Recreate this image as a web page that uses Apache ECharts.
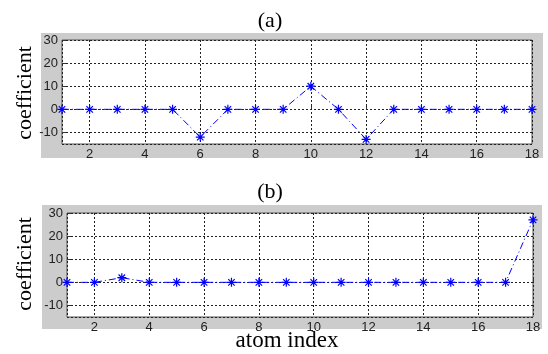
<!DOCTYPE html>
<html>
<head>
<meta charset="utf-8">
<style>
  html, body { margin: 0; padding: 0; background: #fff; }
  #chart { width: 548px; height: 354px; }
</style>
<script src="https://cdn.jsdelivr.net/npm/echarts@6/dist/echarts.min.js"></script>
</head>
<body>
<div id="chart"></div>
<script>
// atom index 1..18
const atomIndex = [1, 2, 3, 4, 5, 6, 7, 8, 9, 10, 11, 12, 13, 14, 15, 16, 17, 18];
const coefA = [0, 0, 0, 0, 0, -12, 0, 0, 0, 10, 0, -13, 0, 0, 0, 0, 0, 0];
const coefB = [0, 0, 2, 0, 0, 0, 0, 0, 0, 0, 0, 0, 0, 0, 0, 0, 0, 27];
const yRange = [-15, 30];
const xRange = [1, 18];

const chart = echarts.init(document.getElementById('chart'));

const blue = '#0000ff';
const star = 'path://M0,-5L0,5M-5,0L5,0M-3.6,-3.6L3.6,3.6M-3.6,3.6L3.6,-3.6';

function pairs(vals) {
    return atomIndex.map((x, i) => [x, vals[i]]);
}

function xAxis(idx) {
    return {
        type: 'value', gridIndex: idx,
        min: xRange[0], max: xRange[1],
        splitNumber: 9, minInterval: 2, maxInterval: 2,
        axisLine: { show: false },
        axisTick: { show: true, inside: true, length: 4, lineStyle: { color: '#333' } },
        axisLabel: {
            showMinLabel: false, color: '#222', fontFamily: 'Liberation Sans', fontSize: 13, margin: 4,
            formatter: v => (v % 2 === 0 ? String(v) : '')
        },
        splitLine: { show: true, lineStyle: { color: '#222', type: [2, 2], width: 1 } }
    };
}

function yAxis(idx) {
    return {
        type: 'value', gridIndex: idx,
        min: yRange[0], max: yRange[1],
        splitNumber: 5, minInterval: 10, maxInterval: 10,
        axisLine: { show: false },
        axisTick: { show: true, inside: true, length: 4, lineStyle: { color: '#333' } },
        axisLabel: {
            showMinLabel: false, color: '#222', fontFamily: 'Liberation Sans', fontSize: 13, margin: 4
        },
        splitLine: { show: true, lineStyle: { color: '#222', type: [2, 2], width: 1 } }
    };
}

function series(idx, vals) {
    return {
        type: 'line', xAxisIndex: idx, yAxisIndex: idx,
        data: pairs(vals),
        symbol: star, symbolSize: 9,
        itemStyle: { color: 'rgba(0,0,0,0)', borderColor: blue, borderWidth: 1.2 },
        lineStyle: { color: blue, width: 1, type: [7, 3, 1, 3] },
        animation: false
    };
}

const option = {
    animation: false,
    graphic: [
        { type: 'rect', z: -10, shape: { x: 41, y: 33, width: 502, height: 125 }, style: { fill: '#cccccc' } },
        { type: 'rect', z: -10, shape: { x: 42, y: 205, width: 500, height: 124 }, style: { fill: '#cccccc' } },
        { type: 'text', x: 270, y: 21, style: { text: '(a)', font: '22px "Liberation Serif"', fill: '#000', textAlign: 'center', textVerticalAlign: 'middle' } },
        { type: 'text', x: 270, y: 192, style: { text: '(b)', font: '22px "Liberation Serif"', fill: '#000', textAlign: 'center', textVerticalAlign: 'middle' } },
        { type: 'text', x: 25, y: 93, rotation: Math.PI / 2, style: { text: 'coefficient', font: '22px "Liberation Serif"', fill: '#000', textAlign: 'center', textVerticalAlign: 'middle' } },
        { type: 'text', x: 25, y: 264, rotation: Math.PI / 2, style: { text: 'coefficient', font: '22px "Liberation Serif"', fill: '#000', textAlign: 'center', textVerticalAlign: 'middle' } },
        { type: 'text', x: 287, y: 341, style: { text: 'atom index', font: '23px "Liberation Serif"', fill: '#000', textAlign: 'center', textVerticalAlign: 'middle' } }
    ],
    grid: [
        { left: 62, top: 40, right: 16, height: 104, show: true, backgroundColor: '#fff', borderColor: '#555', borderWidth: 1 },
        { left: 67, top: 213, right: 15, height: 104, show: true, backgroundColor: '#fff', borderColor: '#555', borderWidth: 1 }
    ],
    xAxis: [xAxis(0), xAxis(1)],
    yAxis: [yAxis(0), yAxis(1)],
    series: [series(0, coefA), series(1, coefB)]
};

chart.setOption(option);
</script>
</body>
</html>
